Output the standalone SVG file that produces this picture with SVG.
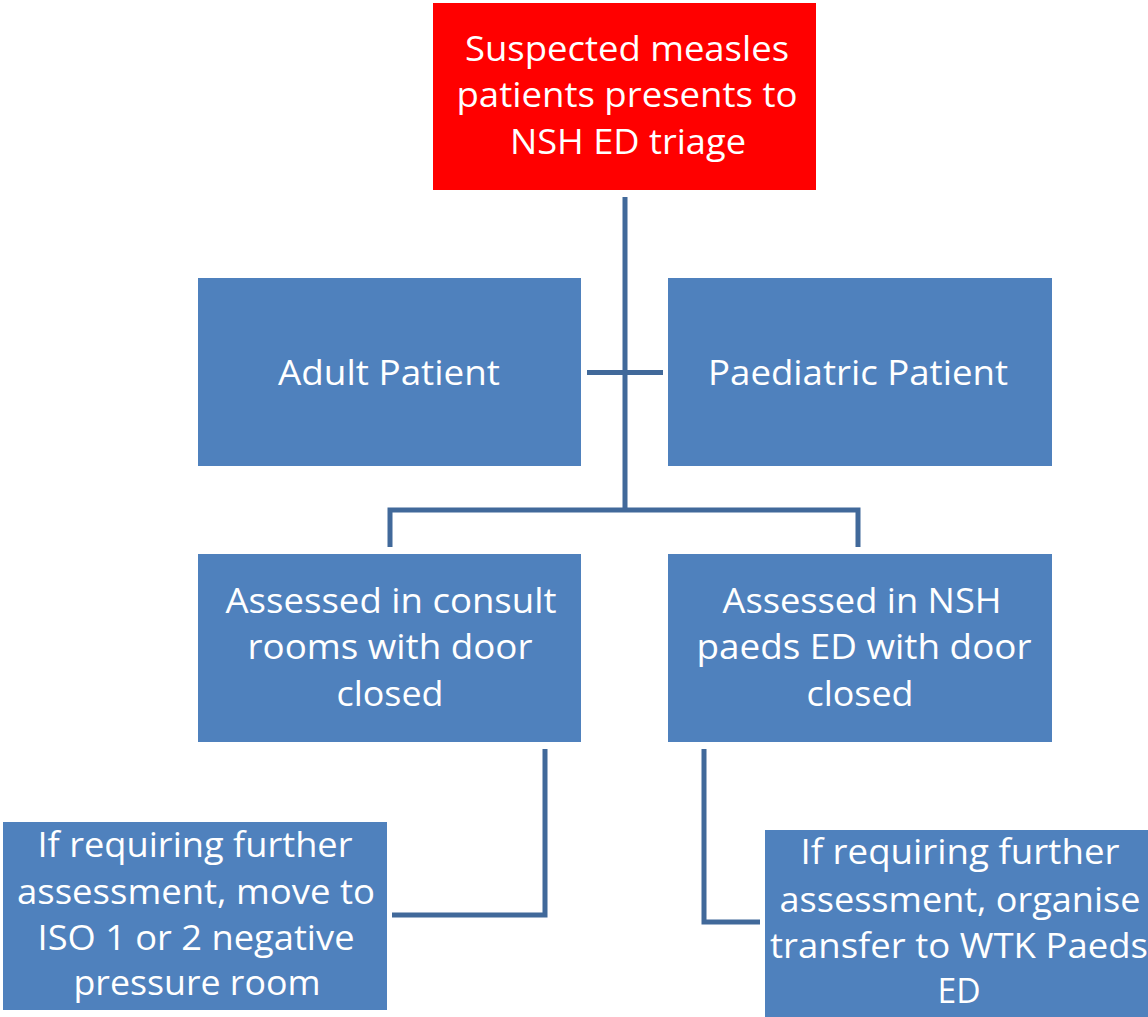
<svg xmlns="http://www.w3.org/2000/svg" width="1148" height="1017" viewBox="0 0 1148 1017">
<style>
.box{fill:#4F81BD;}
.red{fill:#FF0000;}
.t{font-family:"Open Sans","Liberation Sans",sans-serif;font-size:34px;fill:#FFFFFF;text-anchor:middle;}
.c{fill:none;stroke:#41699A;stroke-width:5;stroke-linecap:butt;stroke-linejoin:miter;}
</style>
<rect width="1148" height="1017" fill="#FFFFFF"/>
<g id="connectors">
<path class="c" d="M625,197 V510"/>
<path class="c" d="M587,372.5 H663"/>
<path class="c" d="M390,547 V510 H858 V547"/>
<path class="c" d="M545,749 V915 H392"/>
<path class="c" d="M704,749 V922 H760"/>
</g>
<g id="node-suspected">
<rect class="red" x="433" y="3" width="383" height="187"/>
<text class="t" x="627" y="61" textLength="324" lengthAdjust="spacingAndGlyphs">Suspected measles</text>
<text class="t" x="627" y="107" textLength="341" lengthAdjust="spacingAndGlyphs">patients presents to</text>
<text class="t" x="628" y="154" textLength="236" lengthAdjust="spacingAndGlyphs">NSH ED triage</text>
</g>
<g id="node-adult">
<rect class="box" x="198" y="278" width="383" height="188"/>
<text class="t" x="389" y="385" textLength="222" lengthAdjust="spacingAndGlyphs">Adult Patient</text>
</g>
<g id="node-paed">
<rect class="box" x="668" y="278" width="384" height="188"/>
<text class="t" x="858" y="385" textLength="300" lengthAdjust="spacingAndGlyphs">Paediatric Patient</text>
</g>
<g id="node-consult">
<rect class="box" x="198" y="554" width="383" height="188"/>
<text class="t" x="391" y="613" textLength="331" lengthAdjust="spacingAndGlyphs">Assessed in consult</text>
<text class="t" x="390" y="659" textLength="285" lengthAdjust="spacingAndGlyphs">rooms with door</text>
<text class="t" x="390" y="706" textLength="107" lengthAdjust="spacingAndGlyphs">closed</text>
</g>
<g id="node-paeds-ed">
<rect class="box" x="668" y="554" width="384" height="188"/>
<text class="t" x="862" y="613" textLength="279" lengthAdjust="spacingAndGlyphs">Assessed in NSH</text>
<text class="t" x="864" y="659" textLength="335" lengthAdjust="spacingAndGlyphs">paeds ED with door</text>
<text class="t" x="860" y="706" textLength="107" lengthAdjust="spacingAndGlyphs">closed</text>
</g>
<g id="node-iso">
<rect class="box" x="3" y="822" width="384" height="188"/>
<text class="t" x="195" y="857" textLength="315" lengthAdjust="spacingAndGlyphs">If requiring further</text>
<text class="t" x="196" y="904" textLength="358" lengthAdjust="spacingAndGlyphs">assessment, move to</text>
<text class="t" x="196" y="950" textLength="317" lengthAdjust="spacingAndGlyphs">ISO 1 or 2 negative</text>
<text class="t" x="197" y="995" textLength="247" lengthAdjust="spacingAndGlyphs">pressure room</text>
</g>
<g id="node-wtk">
<rect class="box" x="765" y="830" width="390" height="190"/>
<text class="t" x="960" y="864" textLength="319" lengthAdjust="spacingAndGlyphs">If requiring further</text>
<text class="t" x="960" y="912" textLength="361" lengthAdjust="spacingAndGlyphs">assessment, organise</text>
<text class="t" x="959" y="958" textLength="378" lengthAdjust="spacingAndGlyphs">transfer to WTK Paeds</text>
<text class="t" x="959" y="1003" textLength="43" lengthAdjust="spacingAndGlyphs">ED</text>
</g>
</svg>
